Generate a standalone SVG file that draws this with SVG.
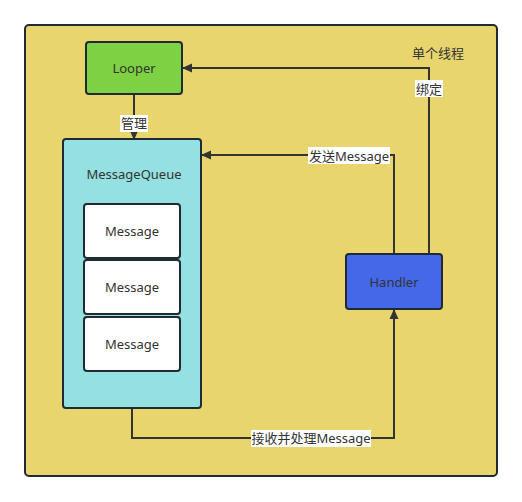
<svg xmlns="http://www.w3.org/2000/svg" width="522" height="502" viewBox="0 0 522 502">
<defs>
<marker id="arr" markerWidth="10" markerHeight="10" refX="9" refY="5" orient="auto" markerUnits="userSpaceOnUse">
<path d="M0,0.5 L10,5 L0,9.5 Z" fill="#333"/>
</marker>
<style>
.box{stroke:#1f2a33;stroke-width:2}
.t{font-family:"Noto Sans","Noto Sans CJK SC",sans-serif;font-size:13px;fill:#333;text-anchor:middle;dominant-baseline:central}
.l{fill:none;stroke:#333;stroke-width:2}
.bg{fill:#fff}
</style>
</defs>
<rect width="522" height="502" fill="#fff"/>
<g id="thread">
<rect class="box" x="25" y="25" width="472" height="451" rx="4" fill="#e8d56e"/>
<text class="t" x="438" y="53">单个线程</text>
</g>
<g id="connectors">
<path class="l" d="M134,94 V139" marker-end="url(#arr)"/>
<path class="l" d="M429,254 V68 H183" marker-end="url(#arr)"/>
<path class="l" d="M394,254 V155 H202" marker-end="url(#arr)"/>
<path class="l" d="M132,408 V438 H394 V310" marker-end="url(#arr)"/>
<rect class="bg" x="120" y="115" width="28" height="17"/>
<text class="t" x="134" y="123">管理</text>
<rect class="bg" x="415" y="80" width="28" height="17"/>
<text class="t" x="429" y="89">绑定</text>
<rect class="bg" x="308" y="147" width="82" height="17"/>
<text class="t" x="349" y="156">发送Message</text>
<rect class="bg" x="251" y="430" width="120" height="17"/>
<text class="t" x="311" y="438">接收并处理Message</text>
</g>
<g id="looper">
<rect class="box" x="86" y="42" width="96" height="52" rx="3" fill="#7dd142"/>
<text class="t" x="134" y="68">Looper</text>
</g>
<g id="messagequeue">
<rect class="box" x="63" y="139" width="138" height="269" rx="3" fill="#95e0e0"/>
<text class="t" x="134" y="174">MessageQueue</text>
</g>
<g id="message1">
<rect class="box" x="84" y="204" width="96" height="54" rx="3" fill="#fff"/>
<text class="t" x="132" y="231">Message</text>
</g>
<g id="message2">
<rect class="box" x="84" y="260" width="96" height="54" rx="3" fill="#fff"/>
<text class="t" x="132" y="287">Message</text>
</g>
<g id="message3">
<rect class="box" x="84" y="317" width="96" height="54" rx="3" fill="#fff"/>
<text class="t" x="132" y="344">Message</text>
</g>
<g id="handler">
<rect class="box" x="346" y="254" width="96" height="55" rx="3" fill="#4568e8"/>
<text class="t" x="394" y="282">Handler</text>
</g>
</svg>
